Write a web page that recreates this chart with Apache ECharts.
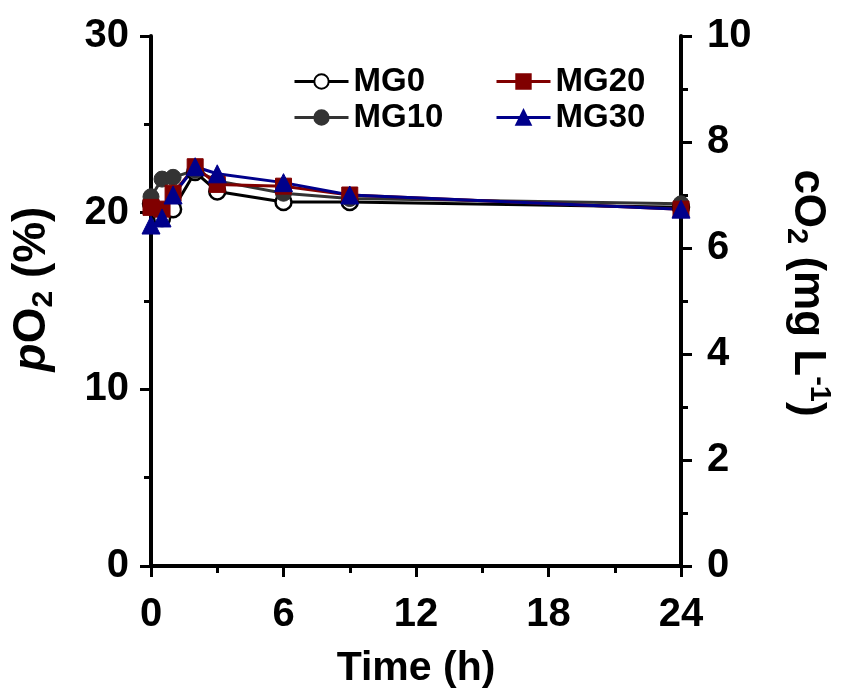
<!DOCTYPE html>
<html>
<head>
<meta charset="utf-8">
<script src="https://cdn.jsdelivr.net/npm/echarts@6/dist/echarts.min.js"></script>
<style>
html,body{margin:0;padding:0;background:#fff;}
#chart{width:847px;height:700px;}
</style>
</head>
<body>
<div id="chart"></div>
<script>
var timeH = [0, 0.5, 1, 2, 3, 6, 9, 24];
var mg0  = [20.5, 19.7, 20.2, 22.3, 21.2, 20.6, 20.6, 20.3];
var mg10 = [20.9, 21.9, 22.0, 22.4, 21.8, 21.1, 20.8, 20.5];
var mg20 = [20.3, 20.2, 21.1, 22.6, 21.6, 21.5, 21.0, 20.2];
var mg30 = [19.3, 19.7, 21.0, 22.6, 22.2, 21.7, 21.0, 20.2];
var seriesNames = ['MG0', 'MG10', 'MG20', 'MG30'];

function pairs(ys){ return timeH.map(function(t,i){ return [t, ys[i]]; }); }

var FONT = "'Liberation Sans', Arial, sans-serif";
var chart = echarts.init(document.getElementById('chart'), null, {renderer:'canvas'});

var axisCommon = {
  axisLine: {show:true, lineStyle:{color:'#000', width:4}},
  axisTick: {show:true, length:11, lineStyle:{color:'#000', width:3}},
  minorTick: {show:true, splitNumber:2, length:7, lineStyle:{color:'#000', width:3}},
  splitLine: {show:false}
};
function ax(extra){ return Object.assign({}, JSON.parse(JSON.stringify(axisCommon)), extra); }
var tickFont = {color:'#000', fontSize:40, fontWeight:'bold', fontFamily:FONT};

function rich(fs){
  return {
    n: {fontSize:fs, fontWeight:'bold', fontFamily:FONT, color:'#000', lineHeight:fs+8},
    i: {fontSize:fs, fontWeight:'bold', fontStyle:'italic', fontFamily:FONT, color:'#000', lineHeight:fs+8},
    s: {fontSize:Math.round(fs*0.65), fontWeight:'bold', fontFamily:FONT, color:'#000', lineHeight:Math.round(fs*0.6), verticalAlign:'bottom'},
    p: {fontSize:Math.round(fs*0.65), fontWeight:'bold', fontFamily:FONT, color:'#000', lineHeight:Math.round(fs*0.6), verticalAlign:'top'}
  };
}
var legendText = {color:'#000', fontSize:33, fontWeight:'bold', fontFamily:FONT};
var legendCommon = {orient:'vertical', top:60, itemWidth:54, itemHeight:18, itemGap:3,
  textStyle:legendText, lineStyle:{width:3}};

var option = {
  backgroundColor:'#fff',
  animation:false,
  grid:{left:151, right:166, top:36, bottom:134, containLabel:false},
  legend:[
    Object.assign({data:['MG0','MG10'], left:288}, legendCommon),
    Object.assign({data:['MG20','MG30'], left:490}, legendCommon)
  ],
  xAxis: ax({type:'value', min:0, max:24, interval:6,
    name:'Time (h)', nameLocation:'middle', nameGap:82,
    nameTextStyle:{color:'#000', fontSize:41, fontWeight:'bold', fontFamily:FONT},
    axisLabel:Object.assign({margin:29}, tickFont)}),
  yAxis:[
    ax({type:'value', position:'left', min:0, max:30, interval:10,
      name:'{i|p}{n|O}{s|2}{n| (%)}', nameLocation:'middle', nameGap:92, nameRotate:90,
      nameTextStyle:{rich:rich(46), padding:[0,0,0,24]},
      axisLabel:Object.assign({margin:22}, tickFont)}),
    ax({type:'value', position:'right', min:0, max:10, interval:2,
      name:'{n|cO}{s|2}{n| (mg L}{p|-1}{n|)}', nameLocation:'middle', nameGap:100, nameRotate:-90,
      nameTextStyle:{rich:rich(44), padding:[0,16,0,0]},
      axisLabel:Object.assign({margin:26}, tickFont)})
  ],
  series:[
    {name:'MG0', type:'line', data:pairs(mg0), symbol:'circle', symbolSize:16,
     lineStyle:{color:'#000', width:3}, itemStyle:{color:'#fff', borderColor:'#000', borderWidth:2.5}},
    {name:'MG10', type:'line', data:pairs(mg10), symbol:'circle', symbolSize:16,
     lineStyle:{color:'#333', width:3}, itemStyle:{color:'#333', borderColor:'#333', borderWidth:1}},
    {name:'MG20', type:'line', data:pairs(mg20), symbol:'rect', symbolSize:16,
     lineStyle:{color:'#800000', width:3}, itemStyle:{color:'#800000', borderColor:'#800000', borderWidth:1}},
    {name:'MG30', type:'line', data:pairs(mg30), symbol:'triangle', symbolSize:18,
     lineStyle:{color:'#00008b', width:3}, itemStyle:{color:'#00008b', borderColor:'#00008b', borderWidth:1}}
  ]
};
chart.setOption(option);
</script>
</body>
</html>
